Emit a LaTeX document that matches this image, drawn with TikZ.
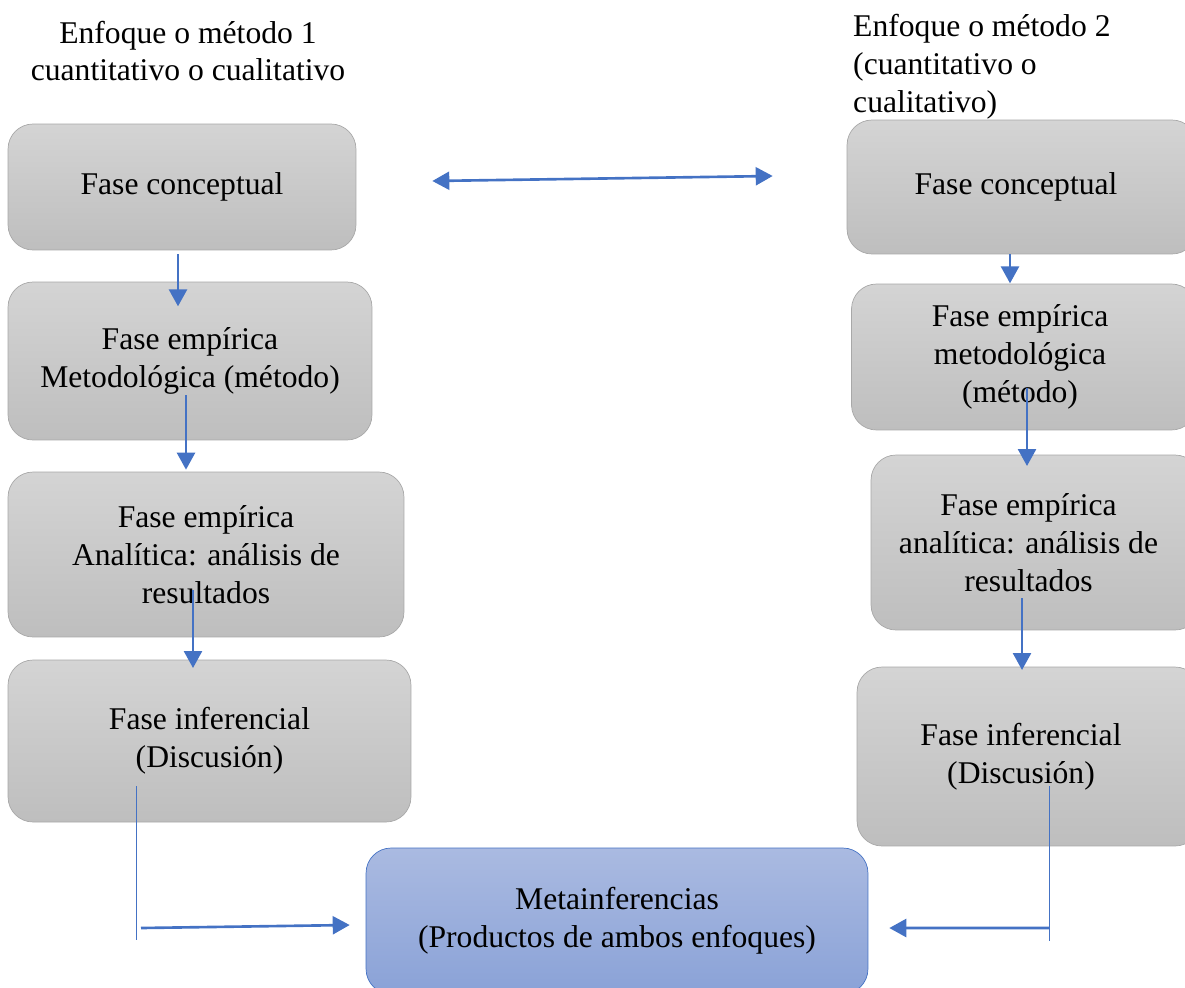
\documentclass[tikz,border=0pt]{standalone}
\usepackage{fontspec}
\setmainfont{Liberation Serif}
\usetikzlibrary{calc,arrows.meta}

\definecolor{azul}{HTML}{4472C4}
\definecolor{grisA}{HTML}{D4D4D4}
\definecolor{grisB}{HTML}{BEBEBE}
\definecolor{grisC}{HTML}{A8A8A8}
\definecolor{metaA}{HTML}{AABAE1}
\definecolor{metaB}{HTML}{8AA2D7}

\tikzset{
  fase/.style={draw=grisC, rounded corners=0.5cm, top color=grisA, bottom color=grisB,
    align=center, inner sep=0pt, font=\fontsize{18}{21.5}\selectfont},
  meta/.style={fase, draw=azul, top color=metaA, bottom color=metaB},
  flecha/.style={azul, line width=1.5pt, -{Triangle[length=0.34cm,width=0.36cm]}},
  guia/.style={azul, line width=0.5pt}
}

\begin{document}
\begin{tikzpicture}[x=0.02cm,y=-0.02cm]
        \clip (0,0) rectangle (1185,987);
        \node[font=\fontsize{18}{21.5}\selectfont, align=center] (t1) at (188,51) {Enfoque o método 1\\cuantitativo o cualitativo};
        \node[font=\fontsize{18}{21.5}\selectfont, align=left, anchor=west] (t2) at (847,67) {Enfoque o método 2\\(cuantitativo o\\cualitativo)};
        % left column
        \node[fase, minimum width=6.96cm, minimum height=2.52cm] (L1) at (182,187) {Fase conceptual};
        \node[fase, minimum width=7.28cm, minimum height=3.16cm] (L2) at (190,361) {Fase empírica\\Metodológica (método)};
        \node[fase, minimum width=7.92cm, minimum height=3.30cm] (L3) at (206,554.5) {Fase empírica\\Analítica: análisis de\\resultados};
        \node[fase, minimum width=8.06cm, minimum height=3.24cm] (L4) at (209.5,741) {Fase inferencial\\(Discusión)};
        % right column
        \node[fase, minimum width=7.00cm, minimum height=2.68cm] (R1) at (1022,187) {\hspace*{-0.24cm}Fase conceptual};
        \node[fase, minimum width=6.90cm, minimum height=2.92cm] (R2) at (1024,357) {\hspace*{-0.16cm}Fase empírica\\\hspace*{-0.16cm}metodológica\\\hspace*{-0.16cm}(método)};
        \node[fase, minimum width=6.58cm, minimum height=3.50cm] (R3) at (1035.5,542.5) {\hspace*{-0.28cm}Fase empírica\\\hspace*{-0.28cm}analítica: análisis de\\\hspace*{-0.28cm}resultados};
        \node[fase, minimum width=6.86cm, minimum height=3.58cm] (R4) at (1028.5,756.5) {\hspace*{-0.30cm}Fase inferencial\\\hspace*{-0.30cm}(Discusión)};
        % result
        \node[meta, minimum width=10.04cm, minimum height=2.92cm] (M) at (617,921) {Metainferencias\\(Productos de ambos enfoques)};
        % arrows
        \draw[flecha, {Triangle[length=0.34cm,width=0.36cm]}-{Triangle[length=0.34cm,width=0.36cm]}] ($(L1.east)+(76,-6)$) -- ($(R1.west)+(-74,-11)$);
        \draw[flecha] ($(L1.south)+(-4,4)$) -- ++(0,52);
        \draw[flecha] ($(L2.center)+(-4,34)$) -- ($(L3.north)+(-20,-2)$);
        \draw[flecha] ($(L3.center)+(-13,35.5)$) -- ++(0,78);
        \draw[flecha] ($(R1.south)+(-12,0)$) -- ++(0,29);
        \draw[flecha] ($(R2.center)+(3,31)$) -- ++(0,78);
        \draw[flecha] ($(R3.center)+(-13.5,55.5)$) -- ++(0,72);
        \draw[guia] ($(L4.center)+(-73.5,45)$) -- ++(0,154);
        \draw[flecha] ($(L4.center)+(-68.5,187)$) -- ($(M.west)+(-16,4)$);
        \draw[guia] ($(R4.center)+(20.5,29.5)$) -- ++(0,155);
        \draw[flecha] ($(R4.center)+(20.5,171.5)$) -- ($(M.east)+(21,7)$);
    \end{tikzpicture}
\end{document}
